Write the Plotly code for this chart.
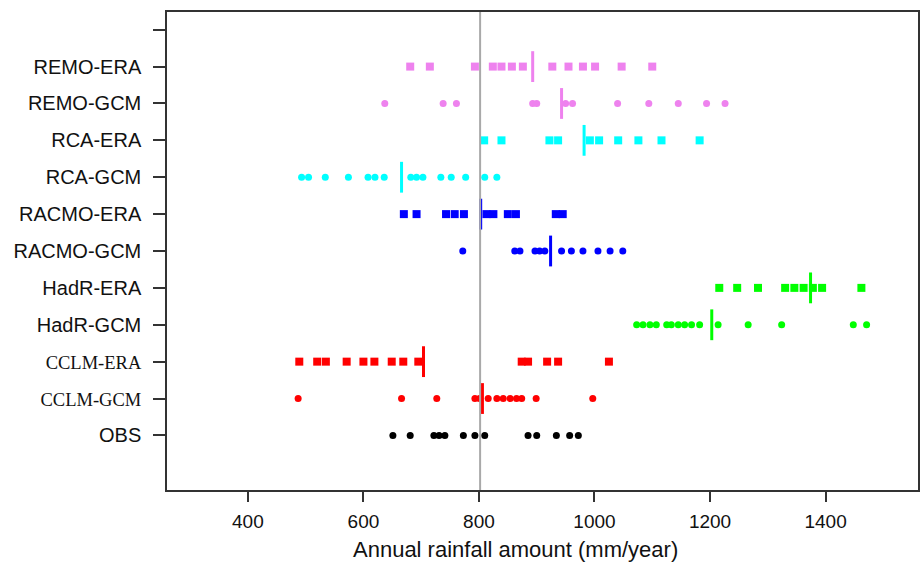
import plotly.graph_objects as go

# ---- data (annual rainfall, mm/year) ----
categories = ["OBS", "CCLM-GCM", "CCLM-ERA", "HadR-GCM", "HadR-ERA",
              "RACMO-GCM", "RACMO-ERA", "RCA-GCM", "RCA-ERA", "REMO-GCM", "REMO-ERA"]

obs = [651, 681, 722, 731, 741, 773, 793, 810, 885, 900, 934, 957, 972]
cclm_gcm = [487, 666, 727, 793, 801, 816, 831, 842, 854, 865, 874, 899, 997]
cclm_era = [489, 520, 535, 571, 600, 619, 649, 669, 695, 874, 885, 918, 937, 1025]
hadr_gcm = [1073, 1084, 1096, 1107, 1125, 1133, 1145, 1156, 1168, 1182, 1214, 1266, 1324, 1448, 1471]
hadr_era = [1216, 1247, 1283, 1330, 1346, 1362, 1378, 1394, 1462]
racmo_gcm = [772, 862, 871, 897, 905, 914, 943, 960, 980, 1006, 1027, 1049]
racmo_era = [670, 692, 743, 758, 774, 813, 825, 850, 864, 933, 945]
rca_gcm = [493, 505, 534, 574, 608, 620, 636, 682, 692, 703, 734, 752, 777, 810, 831]
rca_era = [809, 839, 922, 937, 992, 1008, 1041, 1076, 1116, 1182]
remo_gcm = [637, 738, 761, 893, 900, 950, 962, 1040, 1094, 1145, 1194, 1226]
remo_era = [681, 715, 793, 824, 839, 857, 876, 927, 955, 980, 1001, 1047, 1100]

# central value marked with a vertical bar for each simulation
central = {"CCLM-GCM": 806, "CCLM-ERA": 704, "HadR-GCM": 1203, "HadR-ERA": 1374,
           "RACMO-GCM": 924, "RACMO-ERA": 803, "RCA-GCM": 666, "RCA-ERA": 982,
           "REMO-GCM": 943, "REMO-ERA": 893}
obs_reference = 802

x_ticks = [400, 600, 800, 1000, 1200, 1400]
x_title = "Annual rainfall amount (mm/year)"

series = {"OBS": obs, "CCLM-GCM": cclm_gcm, "CCLM-ERA": cclm_era,
          "HadR-GCM": hadr_gcm, "HadR-ERA": hadr_era,
          "RACMO-GCM": racmo_gcm, "RACMO-ERA": racmo_era,
          "RCA-GCM": rca_gcm, "RCA-ERA": rca_era,
          "REMO-GCM": remo_gcm, "REMO-ERA": remo_era}

# ---- styles ----
colors = {"OBS": "#000000", "CCLM": "#FF0000", "HadR": "#00FF00",
          "RACMO": "#0000FF", "RCA": "#00FFFF", "REMO": "#EE82EE"}

fig = go.Figure()
for i, name in enumerate(categories):
    pos = i + 1
    col = colors[name.split("-")[0]]
    vals = series[name]
    is_era = name.endswith("ERA")
    fig.add_trace(go.Scatter(
        x=vals, y=[pos] * len(vals), mode="markers",
        marker=dict(symbol="square" if is_era else "circle",
                    size=8 if is_era else 7, color=col,
                    line=dict(width=0)),
        showlegend=False, hoverinfo="x"))
    if name in central:
        fig.add_trace(go.Scatter(
            x=[central[name]], y=[pos], mode="markers",
            marker=dict(symbol="line-ns-open", size=22, color=col,
                        line=dict(width=3, color=col)),
            showlegend=False, hoverinfo="x"))

fig.add_shape(type="line", xref="x", yref="y domain",
              x0=obs_reference, x1=obs_reference, y0=0, y1=1,
              line=dict(color="#A9A9A9", width=2), layer="above")

sans = "Liberation Sans, Arial, sans-serif"
serif_style = "font-family:'Liberation Serif','Times New Roman',serif;font-size:18.5px"
tick_text = []
for name in categories:
    if name.startswith("CCLM"):
        tick_text.append(f"<span style=\"{serif_style}\">{name}</span>")
    else:
        tick_text.append(name)
tick_text.append("")

fig.add_annotation(text=x_title, xref="paper", yref="paper",
                   x=0.4647, y=-0.1255, xanchor="center", yanchor="middle",
                   showarrow=False, font=dict(family=sans, size=22, color="#111111"))

fig.update_layout(
    width=920, height=566,
    margin=dict(l=167, r=2, t=12, b=76),
    paper_bgcolor="white", plot_bgcolor="white",
    font=dict(family=sans, size=18, color="#111111"),
    xaxis=dict(range=[260, 1560], tickvals=x_ticks,
               ticktext=[str(v) for v in x_ticks], automargin=False,
               ticks="outside", ticklen=10, tickwidth=1.5, tickcolor="#333333",
               ticklabelstandoff=3,
               showline=True, linecolor="#333333", linewidth=1.5, mirror=True,
               showgrid=False, zeroline=False,
               tickfont=dict(family=sans, size=19)),
    yaxis=dict(range=[-0.48, 12.48], tickvals=list(range(1, 13)),
               ticktext=tick_text, automargin=False,
               ticks="outside", ticklen=12, tickwidth=1.5, tickcolor="#333333",
               ticklabelstandoff=8,
               showline=True, linecolor="#333333", linewidth=1.5, mirror=True,
               showgrid=False, zeroline=False,
               tickfont=dict(family=sans, size=20)),
)

fig.write_html("out.html", config={"displayModeBar": False},
               post_script="document.body.style.margin='0';document.body.style.overflow='hidden';")
